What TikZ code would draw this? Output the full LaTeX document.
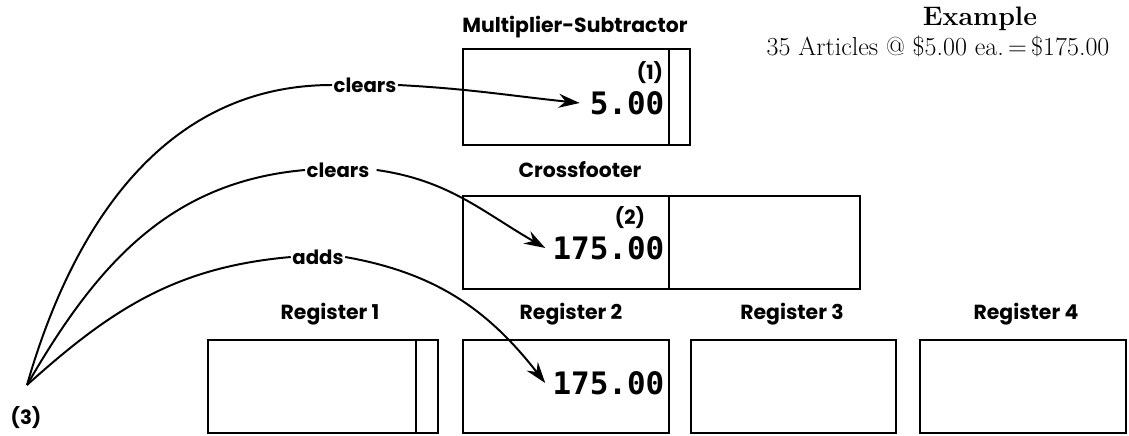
\documentclass[tikz,border=0pt]{standalone}
\usepackage{fontspec}
\usetikzlibrary{arrows.meta}
\newfontfamily\lblfont{Poppins}
\newfontfamily\numfont{DejaVu Sans Mono}
\tikzset{
  box/.style={line width=1.2pt},
  lbl/.style={font=\lblfont\bfseries\fontsize{14.5}{16}\selectfont, inner sep=1pt},
  tag/.style={font=\lblfont\bfseries\fontsize{14}{16}\selectfont, inner sep=1pt},
  num/.style={font=\numfont\bfseries\fontsize{22}{24}\selectfont, anchor=east, inner sep=1pt},
  wire/.style={line width=1.4pt},
  feed/.style={wire, -{Stealth[length=15pt,width=10pt,inset=5pt]}}
}
% one register box: #1 left, #2 right, #3 top, #4 bottom
\newcommand{\regbox}[4]{\draw[box] (#1,#3) rectangle (#2,#4);}

\begin{document}
\begin{tikzpicture}[x=0.025cm, y=-0.025cm]
  \useasboundingbox (0,0) rectangle (1129,435);

  % ---------- example ----------
  \node[font=\bfseries\fontsize{19}{21}\selectfont] (extitle) at (980,19) {Example};
  \node[font=\fontsize{18.5}{20}\selectfont] (extext) at (938,46) {35 Articles @ \$5.00 ea.\,=\,\$175.00};

  % ---------- multiplier-subtractor ----------
  \node[lbl] (mslbl) at (575,27) {Multiplier-Subtractor};
  \regbox{463}{690}{49}{145}
  \draw[box] (669,49) -- (669,145);
  \node[tag] (t1) at (650,73) {(1)};
  \node[num] (n1) at (666,103) {5.00};

  % ---------- crossfooter ----------
  \node[lbl] (cflbl) at (580,170) {Crossfooter};
  \regbox{463}{860}{196}{289}
  \draw[box] (669,196) -- (669,289);
  \node[tag] (t2) at (630,218) {(2)};
  \node[num] (n2) at (666,248) {175.00};

  % ---------- registers ----------
  \node[lbl] (r1lbl) at (330,314) {Register 1};
  \node[lbl] (r2lbl) at (571,314) {Register 2};
  \node[lbl] (r3lbl) at (792,314) {Register 3};
  \node[lbl] (r4lbl) at (1026,314) {Register 4};
  \regbox{208}{438}{340}{433}
  \draw[box] (416,340) -- (416,433);
  \regbox{463}{669}{340}{433}
  \regbox{691}{896}{340}{433}
  \regbox{920}{1126}{340}{433}
  \node[num] (n3) at (666,383) {175.00};

  % ---------- program step (3) ----------
  \node[tag] (p3) at (26,418) {(3)};
  \coordinate (src) at (27,385);
  \node[tag] (cl1) at (365,85) {clears};
  \node[tag] (cl2) at (338,170) {clears};
  \node[tag] (ad) at (318,257) {adds};

  \draw[wire] (src) to[out=74,in=180] (cl1.west);
  \draw[feed] (cl1.east) to[out=-3,in=174] ([xshift=-6pt]n1.west);
  \draw[wire] (src) to[out=60,in=185] (cl2.west);
  \draw[feed] ([xshift=4pt]cl2.east) to[out=-8,in=150] ([xshift=-4pt]n2.west);
  \draw[wire] (src) to[out=42,in=185] (ad.west);
  \draw[feed] (ad.east) to[out=-10,in=128] ([xshift=-4pt]n3.west);

\end{tikzpicture}
\end{document}
